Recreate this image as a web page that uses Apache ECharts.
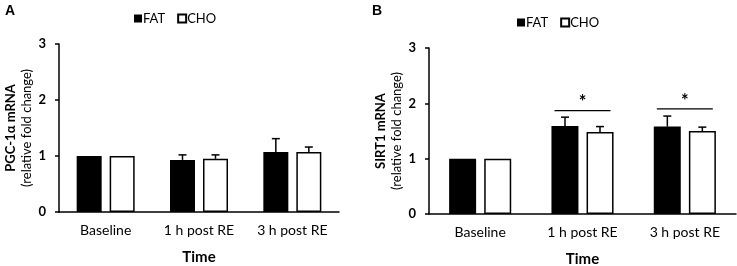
<!DOCTYPE html>
<html>
<head>
<meta charset="utf-8">
<script src="https://cdn.jsdelivr.net/npm/echarts@6/dist/echarts.min.js"></script>
<style>
  html, body { margin: 0; padding: 0; background: #fff; }
  #main { width: 737px; height: 266px; }
</style>
</head>
<body>
<div id="main"></div>
<script>
  var categories = ["Baseline", "1 h post RE", "3 h post RE"];
  var yTicks = [0, 1, 2, 3];

  // A: PGC-1a
  var pgcFat = [1.0, 0.93, 1.07];
  var pgcFatErr = [0, 0.09, 0.24];
  var pgcCho = [1.0, 0.95, 1.07];
  var pgcChoErr = [0, 0.07, 0.09];

  // B: SIRT1
  var sirtFat = [1.0, 1.59, 1.58];
  var sirtFatErr = [0, 0.16, 0.19];
  var sirtCho = [1.0, 1.48, 1.5];
  var sirtChoErr = [0, 0.1, 0.07];
  var sirtSig = [null, 1.87, 1.9]; // brackets with *

  var font = "Lato, 'Open Sans', sans-serif";
  var chart = echarts.init(document.getElementById("main"));

  // error bars: only upward, with cap
  function errSeries(name, vals, errs, xi, yi, offset) {
    return {
      name: name + "-err",
      type: "custom",
      xAxisIndex: xi,
      yAxisIndex: yi,
      z: 5,
      data: vals.map(function (v, i) { return [i, v, v + errs[i]]; }),
      renderItem: function (params, api) {
        if (api.value(2) - api.value(1) <= 0) return;
        var p0 = api.coord([api.value(0), api.value(1)]);
        var p1 = api.coord([api.value(0), api.value(2)]);
        var x = p0[0] + offset;
        var st = { stroke: "#000", lineWidth: 1.5 };
        return {
          type: "group",
          children: [
            { type: "line", shape: { x1: x, y1: p0[1], x2: x, y2: p1[1] }, style: st },
            { type: "line", shape: { x1: x - 4, y1: p1[1], x2: x + 4, y2: p1[1] }, style: st }
          ]
        };
      }
    };
  }

  function sigSeries(vals, xi, yi, half) {
    return {
      name: "sig",
      type: "custom",
      xAxisIndex: xi,
      yAxisIndex: yi,
      data: vals.map(function (v, i) { return [i, v]; }).filter(function (d) { return d[1] != null; }),
      renderItem: function (params, api) {
        var p = api.coord([api.value(0), api.value(1)]);
        return {
          type: "group",
          children: [
            { type: "line", shape: { x1: p[0] - half, y1: p[1], x2: p[0] + half, y2: p[1] },
              style: { stroke: "#000", lineWidth: 1.3 } },
            { type: "text", x: p[0], y: p[1] + 1,
              style: { text: "*", fontSize: 18, fontWeight: "bold", fontFamily: font,
                       fill: "#000", align: "center", verticalAlign: "bottom" } }
          ]
        };
      }
    };
  }

  function xAxisOpt(gi) {
    return {
      type: "category",
      gridIndex: gi,
      data: categories,
      name: "Time",
      nameLocation: "middle",
      nameGap: 38,
      nameTextStyle: { fontFamily: font, fontWeight: "bold", fontSize: 15, color: "#000" },
      axisLine: { lineStyle: { color: "#000", width: 1.5 } },
      axisTick: { alignWithLabel: true, length: 4, lineStyle: { color: "#000", width: 1.5 } },
      axisLabel: { fontFamily: font, fontSize: 14, color: "#000", margin: 11 }
    };
  }

  function yAxisOpt(gi, title) {
    return {
      type: "value",
      gridIndex: gi,
      min: 0,
      max: 3,
      interval: 1,
      name: "{b|" + title + "}\n{n|(relative fold change)}",
      nameLocation: "middle",
      nameRotate: 90,
      nameGap: 24,
      nameTextStyle: {
        color: "#000",
        rich: {
          b: { fontFamily: font, fontWeight: "bold", fontSize: 13, lineHeight: 16, color: "#000" },
          n: { fontFamily: font, fontSize: 13, lineHeight: 16, color: "#000" }
        }
      },
      splitLine: { show: false },
      axisLine: { show: true, lineStyle: { color: "#000", width: 1.5 } },
      axisTick: { show: true, length: 4, lineStyle: { color: "#000", width: 1.5 } },
      axisLabel: {
        fontFamily: font, fontWeight: "bold", fontSize: 13, color: "#000", margin: 13,
        formatter: function (v) { return yTicks.indexOf(v) >= 0 ? String(v) : ""; }
      }
    };
  }

  var fatStyle = { color: "#000" };
  var choStyle = { color: "#fff", borderColor: "#000", borderWidth: 1.5 };

  function legendOpt(left, top) {
    return {
      left: left, top: top, data: ["FAT", "CHO"], icon: "rect",
      itemWidth: 8, itemHeight: 8, itemGap: 12,
      selectedMode: false,
      textStyle: { fontFamily: font, fontSize: 13, color: "#000", padding: [0, 0, 0, -4] }
    };
  }

  var option = {
    animation: false,
    backgroundColor: "#fff",
    legend: [legendOpt(129, 7), legendOpt(512, 11)],
    graphic: [
      { type: "text", left: 5, top: 4, style: { text: "A", fontFamily: "Liberation Sans, Arial", fontWeight: "bold", fontSize: 14, fill: "#000" } },
      { type: "text", left: 372, top: 4, style: { text: "B", fontFamily: "Liberation Sans, Arial", fontWeight: "bold", fontSize: 14, fill: "#000" } }
    ],
    grid: [
      { left: 59, right: 398, top: 44, bottom: 54, containLabel: false, outerBoundsMode: "none" },
      { left: 429, right: 1, top: 48, bottom: 52, containLabel: false, outerBoundsMode: "none" }
    ],
    xAxis: [xAxisOpt(0), xAxisOpt(1)],
    yAxis: [yAxisOpt(0, "PGC-1α mRNA"), yAxisOpt(1, "SIRT1 mRNA")],
    series: [
      { name: "FAT", type: "bar", xAxisIndex: 0, yAxisIndex: 0, data: pgcFat,
        barWidth: 25, barGap: "32%", itemStyle: fatStyle },
      { name: "CHO", type: "bar", xAxisIndex: 0, yAxisIndex: 0, data: pgcCho,
        barWidth: 25, barGap: "32%", itemStyle: choStyle },
      { name: "FAT", type: "bar", xAxisIndex: 1, yAxisIndex: 1, data: sirtFat,
        barWidth: 27, barGap: "30%", itemStyle: fatStyle },
      { name: "CHO", type: "bar", xAxisIndex: 1, yAxisIndex: 1, data: sirtCho,
        barWidth: 27, barGap: "30%", itemStyle: choStyle },
      errSeries("pgcFat", pgcFat, pgcFatErr, 0, 0, -16.5),
      errSeries("pgcCho", pgcCho, pgcChoErr, 0, 0, 16.5),
      errSeries("sirtFat", sirtFat, sirtFatErr, 1, 1, -17.5),
      errSeries("sirtCho", sirtCho, sirtChoErr, 1, 1, 17.5),
      sigSeries(sirtSig, 1, 1, 28)
    ]
  };

  chart.setOption(option);
</script>
</body>
</html>
